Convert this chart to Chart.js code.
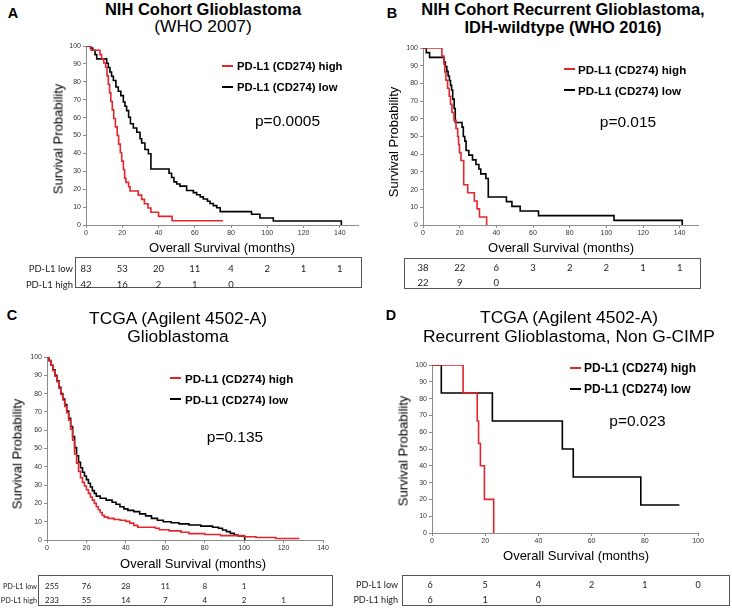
<!DOCTYPE html>
<html>
<head>
<meta charset="utf-8">
<title>PD-L1 survival curves</title>
<script src="https://cdn.jsdelivr.net/npm/chart.js@4.4.1/dist/chart.umd.min.js"></script>
<style>
    html, body { margin: 0; padding: 0; background: #fff; }
    body { position: relative; width: 732px; height: 608px; overflow: hidden; font-family: "Liberation Sans", Arial, sans-serif; color: #000; }
    .txt { position: absolute; white-space: nowrap; line-height: normal; }
    .risk-box { position: absolute; border: 1px solid #555; box-sizing: border-box; }
    .dash { position: absolute; height: 2px; }
    canvas { position: absolute; }
</style>
</head>
<body>
<script>
// Tick values shared by the panels
const xTicksLong = [0, 20, 40, 60, 80, 100, 120, 140];
const xTicksShort = [0, 20, 40, 60, 80, 100];
const yTicks = [0, 10, 20, 30, 40, 50, 60, 70, 80, 90, 100];

// A - NIH cohort glioblastoma (months, survival %)
const aHighT = [0, 2.8, 7.7, 8.6, 9.8, 10.8, 11.6, 12.3, 13, 13.7, 14.5, 15.3, 16.2, 17.2, 18, 18.9, 19.7, 20.6, 21.3, 22, 23.5, 24.3, 28.8, 30.7, 32.2, 34.2, 35.8, 40, 47.5, 75.5];
const aHighS = [100, 97.6, 95.2, 92.9, 90.5, 88.1, 83.3, 78.6, 73.8, 69, 64.3, 59.5, 54.8, 50, 45.2, 40.5, 35.7, 31, 26.2, 23.8, 21.4, 19, 16.7, 14.3, 11.9, 9.5, 7.1, 4.8, 2.4, 2.4];
const aLowT = [0, 2.5, 3.7, 5, 5.9, 11.4, 12.3, 13.2, 14.1, 15.1, 16.5, 17.8, 19.2, 20.6, 21.5, 22.4, 23.5, 24.5, 26.1, 28, 29.8, 30.7, 32.5, 34.4, 35.8, 45.8, 47.2, 48.5, 50, 51.8, 55.5, 59.2, 61, 63, 64.7, 67, 68.4, 70.2, 72.1, 74, 91.3, 95.9, 103.3, 140.8];
const aLowS = [100, 98.8, 97.6, 95.2, 92.8, 90.4, 88, 85.5, 83.1, 80.7, 77.1, 74.7, 72.3, 68.7, 66.3, 63.9, 60.2, 56.6, 54.2, 51.8, 48.2, 45.8, 42.2, 39.8, 31.3, 28.9, 26.5, 24.1, 22.9, 21.7, 19.3, 18.1, 16.9, 15.7, 14.5, 13.3, 12, 10.8, 9.6, 7.5, 6, 3.9, 2.2, 0];
const aRiskLow = [83, 53, 20, 11, 4, 2, 1, 1];
const aRiskHigh = [42, 16, 2, 1, 0];

// B - NIH cohort recurrent, IDH-wildtype
const bHighT = [0, 10.3, 11.4, 11.9, 12.5, 13.4, 14.3, 15, 15.8, 16.9, 18, 18.9, 19.4, 19.9, 20.7, 22.2, 24.4, 28, 29.5, 30.8, 34.7];
const bHighS = [100, 95.5, 90.9, 86.4, 81.8, 77.3, 72.7, 68.2, 63.6, 59.1, 54.5, 50, 45.5, 40.9, 36.4, 22.7, 18.2, 13.6, 9.1, 4.5, 0];
const bLowT = [0, 1.8, 3.6, 11.4, 12.2, 13, 13.7, 14.4, 15, 15.6, 16.2, 17, 17.6, 21.3, 22, 22.8, 23.5, 25, 27, 28.9, 30.5, 31.5, 34.3, 35.6, 45.5, 48.5, 53, 63, 104.2, 141.4];
const bLowS = [100, 97.4, 94.7, 92.1, 89.5, 86.8, 84.2, 81.6, 78.9, 76.3, 71.1, 65.8, 57.9, 55.3, 50, 47.4, 42.1, 39.5, 36.8, 34.2, 31.6, 28.9, 26.3, 15.8, 13.2, 10.5, 7.9, 5.3, 2.6, 0];
const bRiskLow = [38, 22, 6, 3, 2, 2, 1, 1];
const bRiskHigh = [22, 9, 0];

// C - TCGA glioblastoma
const cHighT = [0, 1, 2, 3, 4, 5, 6, 7, 8, 9, 10, 11, 12, 13, 14, 15, 16, 17, 18, 19, 20, 21, 22, 23, 24, 25, 26, 27, 28, 29, 31, 34, 37, 40, 42, 44, 46, 55, 57, 62, 68, 72, 80, 88, 100, 106, 116, 128];
const cHighS = [100, 98, 95.5, 92.5, 89.5, 86.5, 83, 79.5, 76.5, 73, 69.5, 65.5, 60.5, 54.5, 47, 42, 37.5, 34, 31.5, 29.5, 27.5, 25.5, 23.5, 21.8, 20, 18.2, 16.5, 15, 13.5, 12.5, 11.8, 11.2, 10.8, 10.2, 9.2, 8, 7, 6.4, 5.6, 5, 4.2, 3.5, 3, 2.4, 1.8, 1.4, 0.8, 0.8];
const cLowT = [0, 1, 2, 3, 4, 5, 6, 7, 8, 9, 10, 11, 12, 13, 14, 15, 16, 17, 18, 19, 20, 21, 22, 23, 24, 25, 27, 30, 33, 35, 37, 39, 41, 44, 47, 50, 53, 56, 59, 63, 67, 72, 78, 84, 87, 89, 91, 93, 95, 97, 100.3];
const cLowS = [100, 98, 95.5, 93, 90, 87, 83.5, 80, 77, 74, 70.5, 66.5, 62, 56.5, 50.5, 46, 42.5, 39.5, 37, 35, 33, 31, 29, 27, 25.5, 24, 22.8, 21.8, 20.6, 19.5, 18.2, 17, 16.2, 15.5, 14.3, 13.2, 11.8, 10.8, 10, 9.4, 8.8, 8.2, 7.6, 7, 6.4, 5.5, 4.6, 3.6, 2.7, 2.2, 0];
const cRiskLow = [255, 76, 28, 11, 8, 1];
const cRiskHigh = [233, 55, 14, 7, 4, 2, 1];

// D - TCGA recurrent, non G-CIMP
const dHighT = [0, 11.7, 17, 17.5, 18.2, 19.7, 23.2];
const dHighS = [100, 83.3, 66.7, 53.3, 40, 20, 0];
const dLowT = [0, 3.5, 22.7, 49, 53.1, 78.5, 93];
const dLowS = [100, 83.3, 66.7, 50, 33.3, 16.7, 16.7];
const dRiskLow = [6, 5, 4, 2, 1, 0];
const dRiskHigh = [6, 1, 0];

const RED = '#e3262d';
const AXIS = '#8c8c8c';

const panels = [
    {
        letter: 'A', letterAt: [13, 13],
        titles: [['NIH Cohort Glioblastoma', true, 16.5, 8.9], ['(WHO 2007)', false, 17.4, 26.2]], titleX: 203,
        plot: { x: 86, y: 46, w: 272, h: 179 }, xMax: 150, xTicks: xTicksLong,
        highT: aHighT, highS: aHighS, lowT: aLowT, lowS: aLowS,
        yTitleAt: [58, 139], xTitleAt: [222, 246.5],
        legend: { dash: 222, text: 237, y1: 65.5, y2: 87, size: 11.3 },
        p: 'p=0.0005', pAt: [287.5, 121],
        box: { x: 75, y: 257, w: 287, h: 31 }, rows: [268, 284], rowLabels: true, labelRight: 73,
        tableSize: 9.5, labelSize: 9.5, firstShift: 0,
        riskLow: aRiskLow, riskHigh: aRiskHigh
    },
    {
        letter: 'B', letterAt: [392, 13],
        titles: [['NIH Cohort Recurrent Glioblastoma,', true, 16.5, 8.9], ['IDH-wildtype (WHO 2016)', true, 16.5, 26.5]], titleX: 563,
        plot: { x: 423, y: 48, w: 275, h: 177 }, xMax: 150, xTicks: xTicksLong,
        highT: bHighT, highS: bHighS, lowT: bLowT, lowS: bLowS,
        yTitleAt: [393, 142], xTitleAt: [561, 246.5],
        legend: { dash: 564, text: 578, y1: 69, y2: 90, size: 11.6 },
        p: 'p=0.015', pAt: [628, 122],
        box: { x: 404, y: 258, w: 297, h: 31 }, rows: [267, 282], rowLabels: false,
        tableSize: 9.5, labelSize: 9.5, firstShift: 0,
        riskLow: bRiskLow, riskHigh: bRiskHigh
    },
    {
        letter: 'C', letterAt: [12, 315],
        titles: [['TCGA (Agilent 4502-A)', false, 17.4, 318], ['Glioblastoma', false, 17.4, 336]], titleX: 178,
        plot: { x: 47, y: 357, w: 276, h: 183 }, xMax: 140, xTicks: xTicksLong,
        highT: cHighT, highS: cHighS, lowT: cLowT, lowS: cLowS,
        yTitleAt: [17, 454], xTitleAt: [193, 562.5],
        legend: { dash: 170, text: 185, y1: 378, y2: 399, size: 11.6 },
        p: 'p=0.135', pAt: [235, 437],
        box: { x: 38, y: 575, w: 295, h: 31 }, rows: [586, 599.5], rowLabels: true, labelRight: 37,
        tableSize: 8, labelSize: 7.3, firstShift: 5,
        riskLow: cRiskLow, riskHigh: cRiskHigh
    },
    {
        letter: 'D', letterAt: [391, 315],
        titles: [['TCGA (Agilent 4502-A)', false, 17.4, 317], ['Recurrent Glioblastoma, Non G-CIMP', false, 17.4, 336]], titleX: 569,
        plot: { x: 432, y: 365, w: 266, h: 168 }, xMax: 100, xTicks: xTicksShort,
        highT: dHighT, highS: dHighS, lowT: dLowT, lowS: dLowS,
        yTitleAt: [403, 451], xTitleAt: [576, 554.5],
        legend: { dash: 570, text: 584, y1: 368, y2: 389, size: 12 },
        p: 'p=0.023', pAt: [637.5, 420.5],
        box: { x: 402, y: 575, w: 328, h: 31 }, rows: [584, 599], rowLabels: true, labelRight: 398,
        tableSize: 9, labelSize: 9, firstShift: -2,
        riskLow: dRiskLow, riskHigh: dRiskHigh
    }
];

function addText(str, x, y, o = {}) {
    const el = document.createElement('div');
    el.className = 'txt';
    el.textContent = str;
    el.style.left = x + 'px';
    el.style.top = y + 'px';
    el.style.fontSize = (o.size || 13) + 'px';
    el.style.fontWeight = o.bold ? 'bold' : 'normal';
    if (o.family) el.style.fontFamily = o.family;
    if (o.color) el.style.color = o.color;
    const dx = o.align === 'c' ? -50 : o.align === 'r' ? -100 : 0;
    el.style.transform = `translate(${dx}%, -50%)` + (o.rotate ? ' rotate(-90deg)' : '');
    document.body.appendChild(el);
    return el;
}

function addDash(x, y, color) {
    const d = document.createElement('div');
    d.className = 'dash';
    d.style.left = x + 'px';
    d.style.top = (y - 1) + 'px';
    d.style.width = '11px';
    d.style.background = color;
    document.body.appendChild(d);
}

function toPoints(ts, ss) {
    return ts.map((t, i) => ({ x: t, y: ss[i] }));
}

function makeChart(p) {
    const yW = 30, padT = 8, padR = 10, xH = 20;
    const w = p.plot.w + yW + padR;
    const h = p.plot.h + padT + xH;
    const left = p.plot.x - yW;
    const top = p.plot.y - padT;

    const canvas = document.createElement('canvas');
    canvas.width = w;
    canvas.height = h;
    canvas.style.left = left + 'px';
    canvas.style.top = top + 'px';
    canvas.style.width = w + 'px';
    canvas.style.height = h + 'px';
    document.body.appendChild(canvas);

    const tickFont = { family: 'Liberation Sans', size: 7 };
    const chart = new Chart(canvas, {
        type: 'line',
        data: {
            datasets: [
                { label: 'PD-L1 (CD274) high', data: toPoints(p.highT, p.highS), borderColor: RED, borderWidth: 1.6, stepped: true, pointRadius: 0, fill: false },
                { label: 'PD-L1 (CD274) low', data: toPoints(p.lowT, p.lowS), borderColor: '#000', borderWidth: 1.6, stepped: true, pointRadius: 0, fill: false }
            ]
        },
        options: {
            responsive: false,
            animation: false,
            layout: { padding: { top: padT, right: padR, left: 0, bottom: 0 } },
            plugins: { legend: { display: false }, tooltip: { enabled: false } },
            scales: {
                x: {
                    type: 'linear', min: 0, max: p.xMax,
                    afterBuildTicks: s => { s.ticks = p.xTicks.map(v => ({ value: v })); },
                    afterFit: s => { s.height = xH; },
                    grid: { drawOnChartArea: false, tickLength: 3, color: AXIS },
                    border: { color: AXIS },
                    ticks: { font: tickFont, color: '#333', padding: 1, maxRotation: 0, autoSkip: false }
                },
                y: {
                    min: 0, max: 100,
                    afterBuildTicks: s => { s.ticks = yTicks.map(v => ({ value: v })); },
                    afterFit: s => { s.width = yW; },
                    grid: { drawOnChartArea: false, tickLength: 3, color: AXIS },
                    border: { color: AXIS },
                    ticks: { font: tickFont, color: '#333', padding: 2, autoSkip: false }
                }
            }
        }
    });
    return { chart, left };
}

panels.forEach(p => {
    addText(p.letter, p.letterAt[0], p.letterAt[1], { size: 14.5, bold: true, align: 'c' });
    p.titles.forEach(([str, bold, size, y]) => addText(str, p.titleX, y, { size, bold, align: 'c' }));

    const { chart, left } = makeChart(p);

    addText('Survival Probability', p.yTitleAt[0], p.yTitleAt[1], { size: 13, align: 'c', rotate: true });
    addText('Overall Survival (months)', p.xTitleAt[0], p.xTitleAt[1], { size: 13, align: 'c' });

    // Legend inside the plot
    addDash(p.legend.dash, p.legend.y1, RED);
    addDash(p.legend.dash, p.legend.y2, '#000');
    addText('PD-L1 (CD274) high', p.legend.text, p.legend.y1, { size: p.legend.size, bold: true });
    addText('PD-L1 (CD274) low', p.legend.text, p.legend.y2, { size: p.legend.size, bold: true });

    addText(p.p, p.pAt[0], p.pAt[1], { size: 15.5, align: 'c' });

    // Numbers at risk
    const box = document.createElement('div');
    box.className = 'risk-box';
    box.style.left = p.box.x + 'px';
    box.style.top = p.box.y + 'px';
    box.style.width = p.box.w + 'px';
    box.style.height = p.box.h + 'px';
    document.body.appendChild(box);

    const tableFont = { size: p.tableSize, family: 'Lato, "Open Sans", sans-serif', color: '#222', align: 'c' };
    if (p.rowLabels) {
        addText('PD-L1 low', p.labelRight, p.rows[0], { ...tableFont, size: p.labelSize, align: 'r' });
        addText('PD-L1 high', p.labelRight, p.rows[1], { ...tableFont, size: p.labelSize, align: 'r' });
    }
    const xs = chart.scales.x;
    const colX = i => left + xs.getPixelForValue(p.xTicks[i]) + (i === 0 ? p.firstShift : 0);
    p.riskLow.forEach((n, i) => addText(String(n), colX(i), p.rows[0], tableFont));
    p.riskHigh.forEach((n, i) => addText(String(n), colX(i), p.rows[1], tableFont));
});
</script>
</body>
</html>
